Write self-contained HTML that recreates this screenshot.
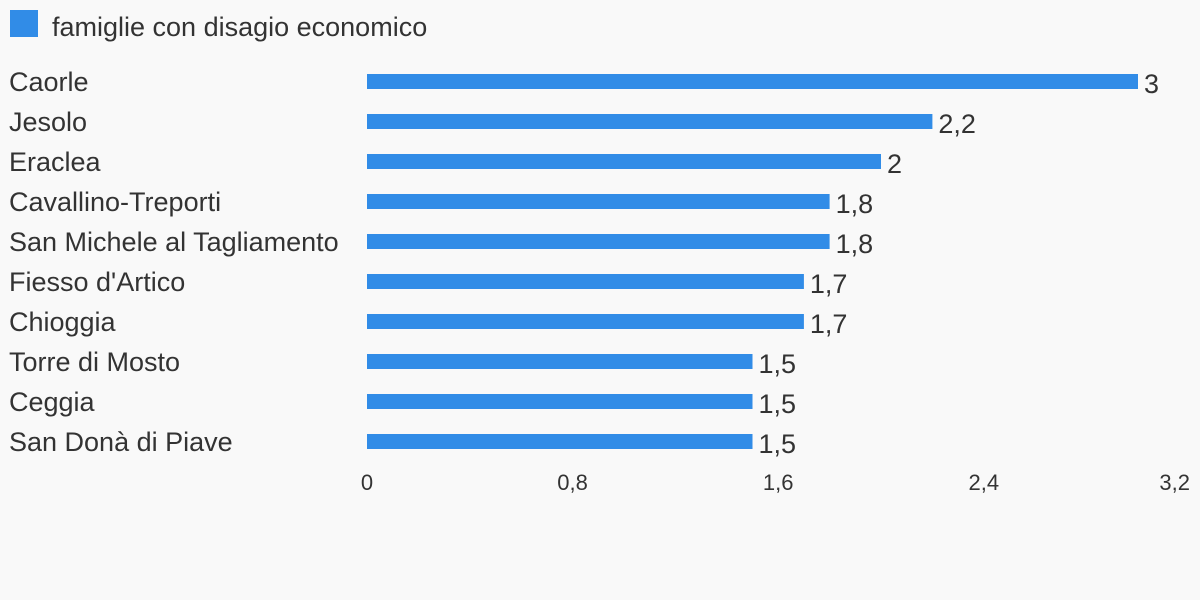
<!DOCTYPE html>
<html><head><meta charset="utf-8"><style>
html,body{margin:0;padding:0;background:#f9f9f9;}
svg{display:block;font-family:"Liberation Sans",sans-serif;}
</style></head><body>
<svg id="chart" width="1200" height="600" viewBox="0 0 1200 600" xmlns="http://www.w3.org/2000/svg">
<rect width="1200" height="600" fill="#f9f9f9"/>
<g>
<rect x="10" y="10" width="28" height="27" fill="#318ce7"/>
<text x="52" y="36" font-size="27" fill="#333">famiglie con disagio economico</text>
</g>
<g id="bars"></g>
<g id="axis"></g>
</svg>
<script>
const categories = ["Caorle","Jesolo","Eraclea","Cavallino-Treporti","San Michele al Tagliamento","Fiesso d'Artico","Chioggia","Torre di Mosto","Ceggia","San Donà di Piave"];
const values = [3,2.2,2,1.8,1.8,1.7,1.7,1.5,1.5,1.5];
const valueLabels = ["3","2,2","2","1,8","1,8","1,7","1,7","1,5","1,5","1,5"];
const tickValues = [0,0.8,1.6,2.4,3.2];
const tickLabels = ["0","0,8","1,6","2,4","3,2"];

const NS="http://www.w3.org/2000/svg";
const x0=367, unit=257;
function xScale(v){return x0+v*unit;}
function yScale(i){return 81+i*40;}
const bars=document.getElementById('bars');
const axis=document.getElementById('axis');
function mk(tag,attrs,parent){const e=document.createElementNS(NS,tag);for(const k in attrs)e.setAttribute(k,attrs[k]);parent.appendChild(e);return e;}
categories.forEach((c,i)=>{
  const y=yScale(i);
  const lab=mk('text',{x:9,y:y+10,'font-size':27,fill:'#333'},bars);
  
  
  lab.textContent=c;
  const r=mk('rect',{x:x0,y:y-7,width:xScale(values[i])-x0,height:15,fill:'#318ce7'},bars);
  
  
  const vl=mk('text',{x:xScale(values[i])+6,y:y+12,'font-size':27,fill:'#333'},bars);
  
  
  vl.textContent=valueLabels[i];
});
tickValues.forEach((t,i)=>{
  const last=i===tickValues.length-1;
  const tx=mk('text',{x:last?1190:xScale(t),y:490,'font-size':22,fill:'#333','text-anchor':last?'end':'middle'},axis);
  
  
  tx.textContent=tickLabels[i];
});
</script>
</body></html>
